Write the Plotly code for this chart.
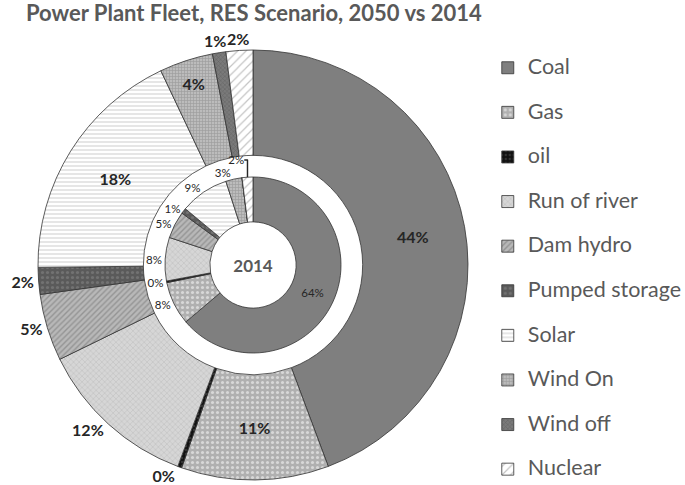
import math
import plotly.graph_objects as go

categories = ["Coal", "Gas", "oil", "Run of river", "Dam hydro", "Pumped storage",
              "Solar", "Wind On", "Wind off", "Nuclear"]
share_2050 = [44, 11, 0.3, 12, 5, 2, 18, 4, 1, 2]
share_2014 = [64, 8, 0.3, 8, 5, 1, 9, 3, 0, 2]

bg_colors = ["#7f7f7f", "#b0b0b0", "#111111", "#d6d6d6", "#b8b8b8", "#5a5a5a",
             "#ffffff", "#bcbcbc", "#7a7a7a", "#ffffff"]
fg_colors = ["#7f7f7f", "#ffffff", "#555555", "#9a9a9a", "#6f6f6f", "#8a8a8a",
             "#9a9a9a", "#7a7a7a", "#505050", "#8a8a8a"]
shapes = ["", ".", ".", "x", "/", ".", "-", "+", "x", "/"]
sizes = [8, 5, 4, 4, 4, 5, 4, 3, 3, 6]
solid = [0.3, 0.3, 0.3, 0.2, 0.35, 0.3, 0.25, 0.35, 0.35, 0.2]

# label placement for the outer ring; the two thin top slices get annotations
outer_pos = ["inside", "inside", "outside", "outside", "outside", "outside",
             "inside", "inside", "none", "none"]
inner_pos = ["inside", "outside", "outside", "outside", "outside", "outside",
             "outside", "outside", "none", "outside"]

legend_names = [f"<span style='font-size:21.5px'>{c}</span><br> " for c in categories]

pattern = dict(shape=shapes, fgcolor=fg_colors, size=sizes, solidity=solid,
               fillmode="overlay")
line = dict(color="#333333", width=0.8)

W, H = 685, 485
ML, MR, MT, MB = 38, 217, 50, 5
PW, PH = W - ML - MR, H - MT - MB

fig = go.Figure()
fig.add_trace(go.Pie(
    labels=legend_names, values=share_2050, sort=False, direction="clockwise",
    rotation=0, hole=0.51, domain=dict(x=[0, 1], y=[0, 1]),
    marker=dict(colors=bg_colors, pattern=pattern, line=line),
    texttemplate="%{value:.0f}%", textposition=outer_pos,
    insidetextorientation="horizontal",
    textfont=dict(family="Lato", size=16, color="#262626", weight="bold"),
    hovertemplate="%{label}: %{value}%<extra>2050</extra>",
))
r = 88 / PW
fig.add_trace(go.Pie(
    labels=legend_names, values=share_2014, sort=False, direction="clockwise",
    rotation=0, hole=0.49, domain=dict(x=[0.5 - r, 0.5 + r], y=[0.5 - r, 0.5 + r]),
    marker=dict(colors=bg_colors, pattern=pattern, line=line),
    texttemplate="%{value:.0f}%", textposition=inner_pos,
    insidetextorientation="horizontal",
    textfont=dict(family="Lato", size=11.5, color="#262626"),
    title=dict(text="<b>2014</b>", position="middle center",
               font=dict(family="Lato", size=17, color="#595959")),
    showlegend=False,
    hovertemplate="%{label}: %{value}%<extra>2014</extra>",
))

# outside labels for the thin top slices, placed from the slice mid-angles
total = sum(share_2050)
cum = 0
annotations = []
for cat, v, pos in zip(categories, share_2050, outer_pos):
    mid = (cum + v / 2) / total * 2 * math.pi
    cum += v
    if pos == "none":
        rr = 1.11  # relative to outer radius
        annotations.append(dict(
            x=0.5 + rr * 0.5 * math.sin(mid), y=0.5 + rr * 0.5 * math.cos(mid),
            xref="paper", yref="paper", text=f"{v:.0f}%", showarrow=False,
            font=dict(family="Lato", size=16, color="#262626", weight="bold"),
        ))

fig.update_layout(
    width=W, height=H,
    margin=dict(l=ML, r=MR, t=MT, b=MB, autoexpand=False),
    paper_bgcolor="white",
    title=dict(text="<b>Power Plant Fleet, RES Scenario, 2050 vs 2014</b>",
               x=0.038, xanchor="left", y=0.989, yanchor="top", yref="container",
               font=dict(family="Lato", size=22, color="#595959")),
    legend=dict(x=1.046, xanchor="left", y=0.998, yanchor="top",
                valign="top", maxheight=480,
                font=dict(family="Lato", size=16, color="#595959"),
                traceorder="normal"),
    annotations=annotations,
)

fig.write_html("out.html", config={"displayModeBar": False},
               post_script="document.body.style.margin='0';")
